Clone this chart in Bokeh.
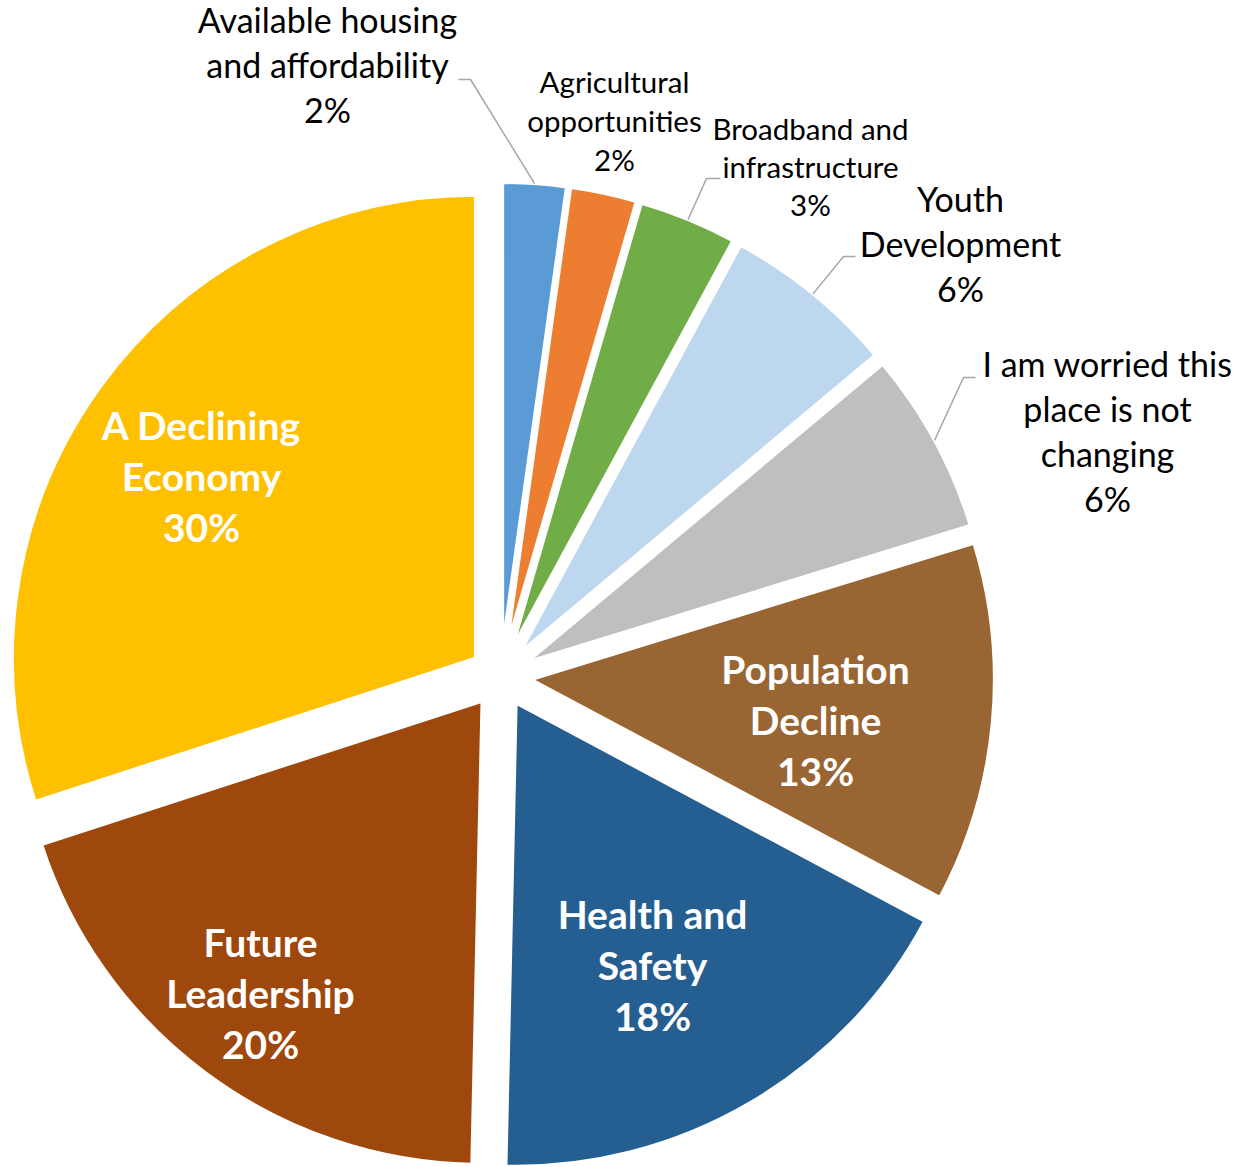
import math
from bokeh.plotting import figure
from bokeh.models import Range1d, ColumnDataSource
from bokeh.core.properties import value
from bokeh.embed import file_html
from bokeh.resources import INLINE

# ---------------- data ----------------
categories = ["Available housing and affordability", "Agricultural opportunities",
              "Broadband and infrastructure", "Youth Development",
              "I am worried this place is not changing", "Population Decline",
              "Health and Safety", "Future Leadership", "A Declining Economy"]
values = [2.2, 2.3, 3.4, 6.0, 6.35, 12.55, 17.55, 19.65, 30.0]
colors = ["#5B9BD5", "#ED7D31", "#70AD47", "#BDD7EE", "#BFBFBF",
          "#996633", "#255E91", "#9E480E", "#FFC000"]
label_lines = [["Available housing", "and affordability"],
               ["Agricultural", "opportunities"],
               ["Broadband and", "infrastructure"],
               ["Youth", "Development"],
               ["I am worried this", "place is not", "changing"],
               ["Population", "Decline"],
               ["Health and", "Safety"],
               ["Future", "Leadership"],
               ["A Declining", "Economy"]]

# ---------------- layout (screen px) ----------------
W, H = 1240, 1165
ORIGIN_X, ORIGIN_Y = 0, 0      # where the figure lands on the page
CX, CY = 500, 676              # pie centre (screen)
R = 463
EXPLODE = 31
TEXT_DY = -14                  # baseline correction for the text glyph
# label: centre x, first baseline y, font px, line spacing, inside?
label_layout = [(327, 33, 34, 45, False),
                (614, 95, 29.5, 39, False),
                (810, 142, 29.5, 38, False),
                (960, 212, 34, 45, False),
                (1107, 377, 34, 45, False),
                (815, 682, 39, 51, True),
                (652, 927, 39, 51, True),
                (260, 955, 39, 51, True),
                (201, 438, 39, 51, True)]
# leader: label-side anchor and elbow (screen), None = no leader
leader_layout = [((458, 79), (470, 79)),
                 None,
                 ((720, 178), (706, 178)),
                 ((855, 256), (843, 256)),
                 ((975, 377), (963, 377)),
                 None, None, None, None]

def fy(y):
    return -y

p = figure(width=W, height=H, output_backend="svg", toolbar_location=None,
           x_range=Range1d(ORIGIN_X, ORIGIN_X + W),
           y_range=Range1d(-(ORIGIN_Y + H), -ORIGIN_Y),
           x_axis_type=None, y_axis_type=None, min_border=0,
           background_fill_color="white", border_fill_color="white")
p.outline_line_color = None
p.grid.visible = False

total = sum(values)
xs, ys, starts, ends, mids = [], [], [], [], []
cum = 0.0
for v in values:
    a0 = cum / total
    a1 = (cum + v) / total
    m = 2 * math.pi * (a0 + a1) / 2
    xs.append(CX + EXPLODE * math.sin(m))
    ys.append(fy(CY) + EXPLODE * math.cos(m))
    starts.append(math.pi / 2 - 2 * math.pi * a0)
    ends.append(math.pi / 2 - 2 * math.pi * a1)
    mids.append(m)
    cum += v

src = ColumnDataSource(dict(x=xs, y=ys, start=starts, end=ends, color=colors))
p.wedge(x="x", y="y", radius=R, start_angle="start", end_angle="end",
        direction="clock", fill_color="color", line_color="white",
        line_width=3, source=src)

# leader lines
lx, ly = [], []
for i, ld in enumerate(leader_layout):
    if ld is None:
        continue
    (ax, ay), (ex, ey) = ld
    px = xs[i] + R * math.sin(mids[i])
    py = ys[i] + R * math.cos(mids[i])
    lx.append([ax, ex, px])
    ly.append([fy(ay), fy(ey), py])
p.multi_line(xs=lx, ys=ly, line_color="#A6A6A6", line_width=1.5)

# labels
for i, (lines, v) in enumerate(zip(label_lines, values)):
    cx, by, fs, sp, inside = label_layout[i]
    pct = f"{int(v / total * 100 + 0.5)}%"
    all_lines = lines + [pct]
    tx = [cx] * len(all_lines)
    ty = [fy(by + TEXT_DY + k * sp) for k in range(len(all_lines))]
    p.text(x=tx, y=ty, text=all_lines, text_align="center",
           text_baseline="alphabetic", text_font=value("Lato"),
           text_font_size=f"{fs}px",
           text_font_style="bold" if inside else "normal",
           text_color="white" if inside else "#000000")

open("out.html", "w").write(file_html(p, INLINE))
